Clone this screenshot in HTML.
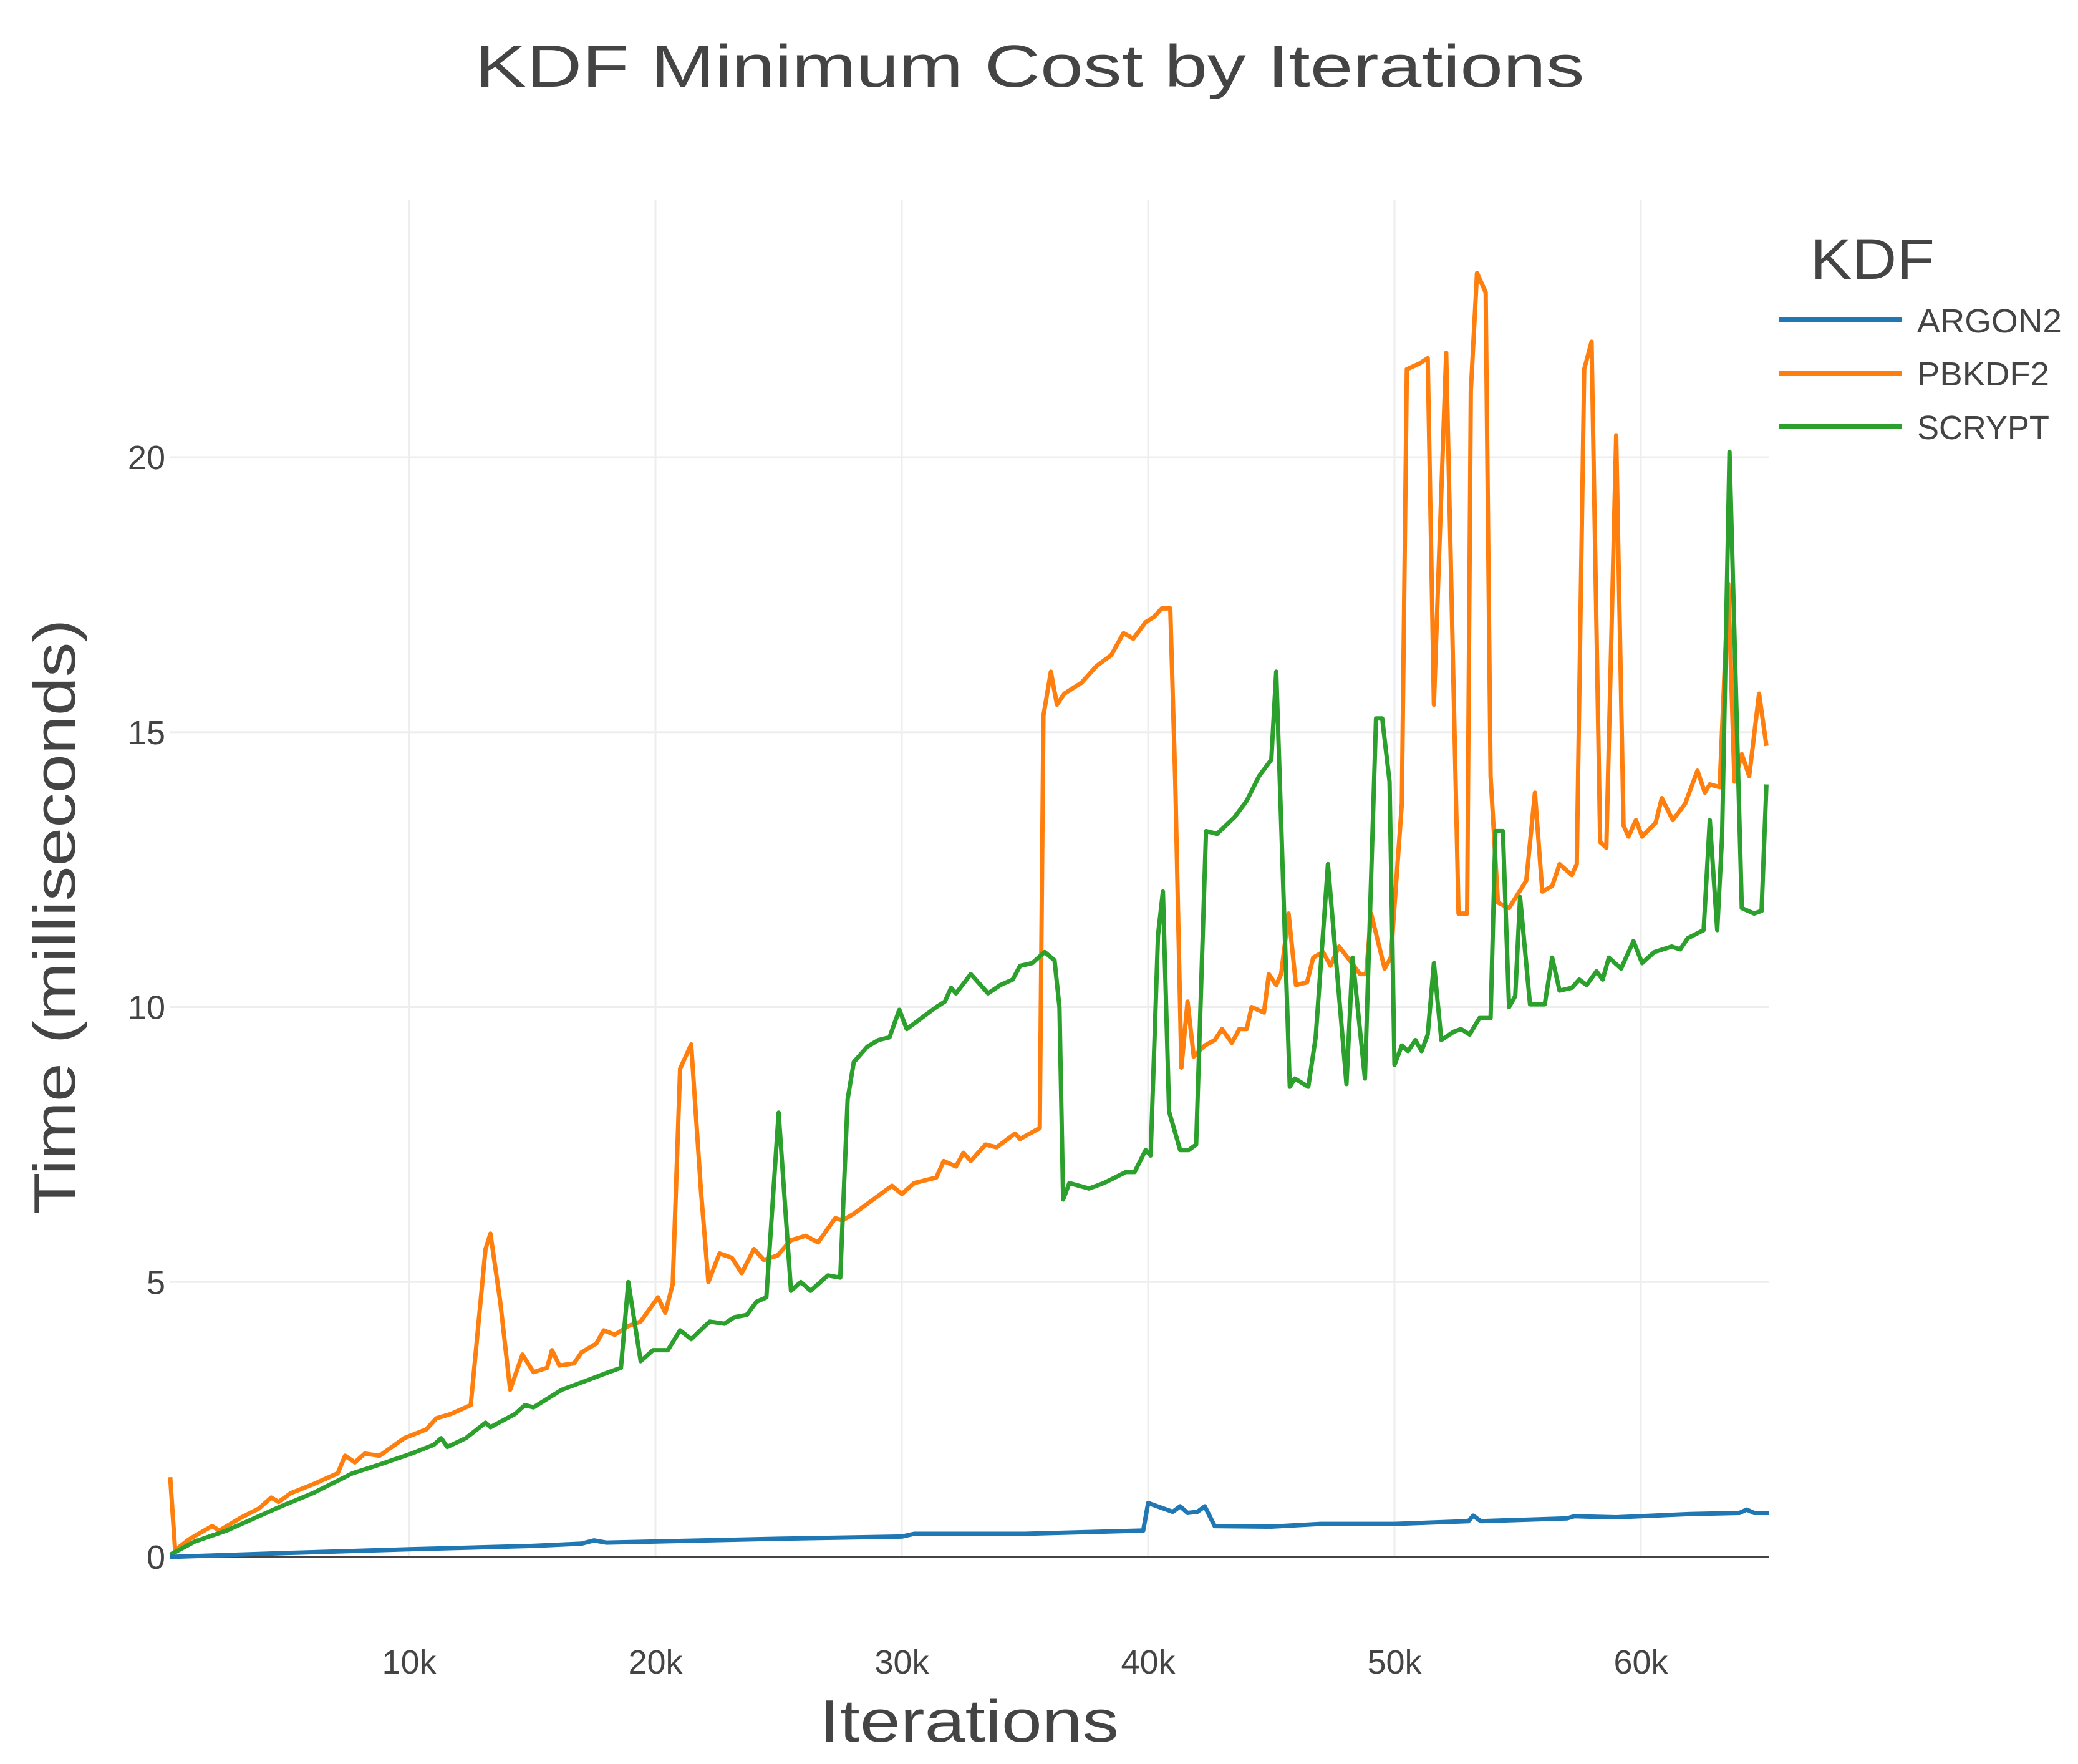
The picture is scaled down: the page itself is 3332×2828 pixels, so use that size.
<!DOCTYPE html>
<html><head><meta charset="utf-8">
<style>
html,body{margin:0;padding:0;background:#fff;}
svg{display:block;font-family:"Liberation Sans","DejaVu Sans",sans-serif;}
</style></head>
<body>
<svg id="chart" width="3332" height="2828" viewBox="0 0 3332 2828" xmlns="http://www.w3.org/2000/svg">
<rect width="3332" height="2828" fill="#fff"/>
<g id="grid"></g>
<g id="series"></g>
<g id="axes"></g>
<text x="1651" y="139" text-anchor="middle" font-size="96" fill="#444" textLength="1779" lengthAdjust="spacingAndGlyphs">KDF Minimum Cost by Iterations</text>
<text x="1554" y="2792" text-anchor="middle" font-size="96" fill="#444" textLength="480" lengthAdjust="spacingAndGlyphs">Iterations</text>
<text transform="translate(120,1470) rotate(-90)" text-anchor="middle" font-size="94" fill="#444" textLength="955" lengthAdjust="spacingAndGlyphs">Time (milliseconds)</text>
<g>
<text x="2903" y="447" font-size="92" fill="#444" textLength="199" lengthAdjust="spacingAndGlyphs">KDF</text>
<g><line x1="2852" y1="513" x2="3050" y2="513" stroke="#1f77b4" stroke-width="8"/><text x="3074" y="533" font-size="54" fill="#444" textLength="232" lengthAdjust="spacingAndGlyphs">ARGON2</text></g>
<g><line x1="2852" y1="598" x2="3050" y2="598" stroke="#ff7f0e" stroke-width="8"/><text x="3074" y="618" font-size="54" fill="#444" textLength="212" lengthAdjust="spacingAndGlyphs">PBKDF2</text></g>
<g><line x1="2852" y1="684" x2="3050" y2="684" stroke="#2ca02c" stroke-width="8"/><text x="3074" y="704" font-size="54" fill="#444" textLength="212" lengthAdjust="spacingAndGlyphs">SCRYPT</text></g>
</g>
</svg>
<script>
// x in thousands of iterations, y in milliseconds
const xTicks = [10,20,30,40,50,60];
const xTickLabels = ["10k","20k","30k","40k","50k","60k"];
const yTicks = [0,5,10,15,20];
const yTickLabels = ["0","5","10","15","20"];

const argonX = [0.3,5,10,15,17,17.5,18,25,30,30.5,35,39,39.8,40,40.5,41,41.3,41.6,42,42.3,42.7,45,47,50,53,53.2,53.5,57,57.3,59,62,64,64.3,64.6,65.2];
const argonY = [0,0.07,0.14,0.2,0.24,0.3,0.26,0.33,0.37,0.42,0.42,0.47,0.48,0.98,0.9,0.82,0.92,0.8,0.82,0.92,0.56,0.55,0.6,0.6,0.65,0.75,0.65,0.7,0.74,0.72,0.78,0.8,0.86,0.8,0.8];

const pbkdfX = [0.3,0.5,1.07,2.0,2.3,3.2,3.9,4.4,4.7,5.2,6.1,7.1,7.4,7.8,8.2,8.8,9.8,10.7,11.1,11.7,12.5,13.1,13.3,13.7,14.1,14.6,15.05,15.6,15.8,16.1,16.7,17.0,17.6,17.9,18.35,18.9,19.4,20.1,20.4,20.7,21.0,21.45,21.85,22.15,22.6,23.1,23.5,24.0,24.4,24.95,25.5,26.1,26.6,27.3,27.6,28.05,28.9,29.6,30.0,30.5,31.4,31.7,32.2,32.5,32.8,33.4,33.85,34.6,34.8,35.2,35.6,35.75,36.05,36.3,36.6,37.3,37.9,38.5,39.0,39.4,39.9,40.25,40.55,40.9,41.1,41.35,41.6,41.85,42.3,42.7,43.0,43.4,43.7,44.0,44.2,44.7,44.9,45.2,45.4,45.7,46.0,46.45,46.7,47.1,47.4,47.75,48.1,48.6,48.85,49.05,49.6,49.85,50.3,50.5,51.0,51.35,51.6,52.1,52.6,52.95,53.1,53.35,53.7,53.9,54.2,54.65,55.0,55.35,55.7,56.0,56.4,56.7,57.2,57.4,57.7,58.0,58.2,58.35,58.6,59.0,59.3,59.5,59.8,60.05,60.6,60.85,61.3,61.8,62.3,62.6,62.8,63.2,63.55,63.8,64.1,64.4,64.8,65.1];
const pbkdfY = [1.45,0.12,0.32,0.56,0.48,0.72,0.88,1.08,1.0,1.16,1.32,1.52,1.84,1.72,1.88,1.84,2.16,2.32,2.52,2.6,2.76,5.6,5.88,4.64,3.04,3.68,3.36,3.44,3.76,3.48,3.52,3.72,3.88,4.12,4.04,4.2,4.28,4.72,4.44,4.96,8.88,9.32,6.64,5.0,5.52,5.44,5.16,5.6,5.4,5.48,5.76,5.84,5.72,6.16,6.12,6.24,6.52,6.75,6.6,6.8,6.9,7.2,7.1,7.35,7.2,7.5,7.45,7.7,7.6,7.7,7.8,15.3,16.1,15.5,15.7,15.9,16.2,16.4,16.8,16.7,17.0,17.1,17.25,17.25,14.1,8.9,10.1,9.1,9.3,9.4,9.6,9.35,9.6,9.6,10.0,9.9,10.6,10.4,10.6,11.7,10.4,10.45,10.9,11.0,10.75,11.1,10.9,10.6,10.6,11.7,10.7,10.9,13.7,21.6,21.7,21.8,15.5,21.9,11.7,11.7,21.2,23.35,23.0,14.2,11.9,11.8,12.05,12.3,13.9,12.1,12.2,12.6,12.4,12.6,21.6,22.1,16.9,13.0,12.9,20.4,13.3,13.1,13.4,13.1,13.35,13.8,13.4,13.7,14.3,13.9,14.05,14.0,17.7,14.1,14.6,14.2,15.7,14.75];

const scryptX = [0.3,1.3,2.6,3.6,4.8,6.1,7.7,8.8,10.1,11.0,11.3,11.55,12.3,13.1,13.3,14.3,14.7,15.05,16.2,17.4,18.1,18.6,18.9,19.4,19.9,20.5,21.0,21.45,22.2,22.8,23.2,23.7,24.1,24.5,25.0,25.5,25.9,26.3,27.0,27.5,27.8,28.05,28.6,29.05,29.5,29.9,30.2,30.8,31.4,31.75,32.0,32.2,32.8,33.5,34.0,34.5,34.8,35.3,35.8,36.2,36.4,36.55,36.8,37.2,37.6,38.2,38.65,39.1,39.45,39.9,40.1,40.4,40.6,40.85,41.3,41.65,41.95,42.35,42.8,43.5,44.0,44.5,45.0,45.2,45.75,45.95,46.5,46.8,47.3,48.05,48.3,48.8,49.25,49.5,49.8,50.0,50.3,50.55,50.85,51.1,51.35,51.6,51.9,52.4,52.7,53.05,53.45,53.9,54.1,54.4,54.65,54.9,55.1,55.5,56.1,56.4,56.7,57.2,57.5,57.8,58.2,58.45,58.7,59.2,59.7,60.05,60.55,61.25,61.6,61.9,62.55,62.8,63.1,63.3,63.6,64.1,64.6,64.9,65.1];
const scryptY = [0.04,0.28,0.48,0.68,0.92,1.16,1.52,1.68,1.88,2.04,2.16,2.0,2.16,2.44,2.36,2.6,2.76,2.72,3.04,3.24,3.36,3.44,5.0,3.56,3.76,3.76,4.12,3.96,4.28,4.24,4.36,4.4,4.64,4.72,8.08,4.84,5.0,4.84,5.12,5.08,8.32,9.0,9.28,9.4,9.45,9.95,9.6,9.8,10.0,10.1,10.35,10.25,10.6,10.25,10.4,10.5,10.75,10.8,11.0,10.85,10.0,6.5,6.8,6.75,6.7,6.8,6.9,7.0,7.0,7.4,7.3,11.3,12.1,8.1,7.4,7.4,7.5,13.2,13.15,13.45,13.75,14.2,14.5,16.1,8.55,8.7,8.55,9.45,12.6,8.6,10.9,8.7,15.25,15.25,14.1,8.95,9.3,9.2,9.4,9.2,9.5,10.8,9.4,9.55,9.6,9.5,9.8,9.8,13.2,13.2,10.0,10.2,12.0,10.05,10.05,10.9,10.3,10.35,10.5,10.4,10.65,10.5,10.9,10.7,11.2,10.8,11.0,11.1,11.05,11.25,11.4,13.4,11.4,13.1,20.1,11.8,11.7,11.75,14.05];

const NS = "http://www.w3.org/2000/svg";
const X0 = 273, X1 = 2837, Y0 = 2496, YTOP = 320;
const PX_PER_K = 39.5, PX_PER_MS = 88.15, X_REF = 656;
function xs(v){ return X_REF + (v-10)*PX_PER_K; }
function ys(v){ return Y0 - v*PX_PER_MS; }

const grid = document.getElementById('grid');
const axes = document.getElementById('axes');
const seriesG = document.getElementById('series');

xTicks.forEach((t,i)=>{
  const l = document.createElementNS(NS,'line');
  l.setAttribute('x1',xs(t)); l.setAttribute('x2',xs(t));
  l.setAttribute('y1',YTOP); l.setAttribute('y2',Y0);
  l.setAttribute('stroke','#eee'); l.setAttribute('stroke-width','3');
  
  
  grid.appendChild(l);
  const tx = document.createElementNS(NS,'text');
  tx.setAttribute('x',xs(t)); tx.setAttribute('y',2683);
  tx.setAttribute('text-anchor','middle'); tx.setAttribute('font-size','54'); tx.setAttribute('fill','#444');
  tx.textContent = xTickLabels[i];
  
  
  axes.appendChild(tx);
});
yTicks.forEach((t,i)=>{
  if(t>0){
    const l = document.createElementNS(NS,'line');
    l.setAttribute('x1',X0); l.setAttribute('x2',X1);
    l.setAttribute('y1',ys(t)); l.setAttribute('y2',ys(t));
    l.setAttribute('stroke','#eee'); l.setAttribute('stroke-width','3');
    
    
    grid.appendChild(l);
  }
  const tx = document.createElementNS(NS,'text');
  tx.setAttribute('x',265); tx.setAttribute('y',ys(t)+19);
  tx.setAttribute('text-anchor','end'); tx.setAttribute('font-size','54'); tx.setAttribute('fill','#444');
  tx.textContent = yTickLabels[i];
  
  
  axes.appendChild(tx);
});

function drawSeries(xsArr, ysArr, color, name){
  const p = document.createElementNS(NS,'polyline');
  p.setAttribute('points', xsArr.map((x,i)=>xs(x).toFixed(1)+','+ys(ysArr[i]).toFixed(1)).join(' '));
  p.setAttribute('fill','none'); p.setAttribute('stroke',color);
  p.setAttribute('stroke-width','7'); p.setAttribute('stroke-linejoin','round');
  
  
  seriesG.appendChild(p);
}
drawSeries(pbkdfX, pbkdfY, '#ff7f0e', 'pbkdf2-line');
drawSeries(scryptX, scryptY, '#2ca02c', 'scrypt-line');

const zl = document.createElementNS(NS,'line');
zl.setAttribute('x1',X0); zl.setAttribute('x2',X1);
zl.setAttribute('y1',Y0); zl.setAttribute('y2',Y0);
zl.setAttribute('stroke','#444'); zl.setAttribute('stroke-width','3');


seriesG.appendChild(zl);

drawSeries(argonX, argonY, '#1f77b4', 'argon2-line');
</script>
</body></html>
